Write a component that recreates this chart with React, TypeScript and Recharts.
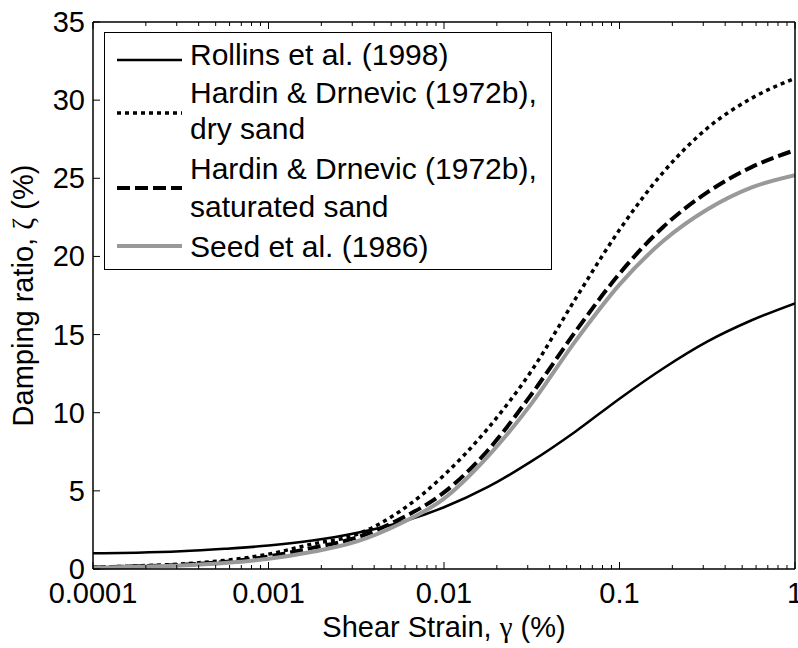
import React from 'react';
import { LineChart, Line, XAxis, YAxis, Legend } from 'recharts';

// shear strain (%) at quarter-decade steps
const strain = [
  0.0001, 0.000178, 0.000316, 0.000562, 0.001, 0.00178, 0.00316, 0.00562, 0.01,
  0.0178, 0.0316, 0.0562, 0.1, 0.178, 0.316, 0.562, 1,
];

// damping ratio (%)
const rollins = [1.0, 1.04, 1.13, 1.29, 1.5, 1.82, 2.3, 2.98, 3.95, 5.25, 6.9, 8.8, 10.9, 12.85, 14.55, 15.9, 17.0];
const hardinDry = [0.1, 0.2, 0.32, 0.55, 0.95, 1.6, 2.2, 3.7, 6.0, 9.0, 12.7, 17.3, 21.7, 25.4, 28.2, 30.1, 31.4];
const hardinSat = [0.1, 0.17, 0.27, 0.45, 0.8, 1.35, 2.0, 3.2, 4.9, 7.6, 11.2, 15.2, 18.9, 21.9, 24.1, 25.7, 26.8];
const seed = [0.08, 0.14, 0.22, 0.38, 0.65, 1.1, 1.75, 2.9, 4.5, 7.2, 10.6, 14.6, 18.2, 21.0, 23.0, 24.4, 25.2];

const xMajorTicks = [0.0001, 0.001, 0.01, 0.1, 1];
const xTickLabels = ['0.0001', '0.001', '0.01', '0.1', '1'];
const yTicks = [0, 5, 10, 15, 20, 25, 30, 35];

const legendRows = [
  { key: 'rollins', lines: ['Rollins et al. (1998)'] },
  { key: 'hardinDry', lines: ['Hardin & Drnevic (1972b),', 'dry sand'] },
  { key: 'hardinSat', lines: ['Hardin & Drnevic (1972b),', 'saturated sand'] },
  { key: 'seed', lines: ['Seed et al. (1986)'] },
];

const styles: Record<string, { stroke: string; width: number; dash?: string }> = {
  rollins: { stroke: '#000000', width: 2.5 },
  hardinDry: { stroke: '#000000', width: 3.5, dash: '4 4' },
  hardinSat: { stroke: '#000000', width: 4, dash: '13 5' },
  seed: { stroke: '#999999', width: 4 },
};

const data = strain.map((x, i) => ({
  x,
  rollins: rollins[i],
  hardinDry: hardinDry[i],
  hardinSat: hardinSat[i],
  seed: seed[i],
}));

// minor log ticks 2..9 in each decade
const xAllTicks: number[] = [];
xMajorTicks.forEach((d, i) => {
  xAllTicks.push(d);
  if (i < xMajorTicks.length - 1) {
    for (let m = 2; m <= 9; m++) xAllTicks.push(+(d * m).toPrecision(3));
  }
});

const FONT = 'Arial, "Liberation Sans", Helvetica, sans-serif';
const GREEK = '"Liberation Serif", "DejaVu Serif", serif';

const majorIndex = (v: number) => xMajorTicks.findIndex((t) => Math.abs(t - v) / t < 1e-6);

function BottomTick(props: any) {
  const { x, y, payload } = props;
  const idx = majorIndex(payload.value);
  return (
    <g>
      <line x1={x} x2={x} y1={y} y2={y - (idx >= 0 ? 7 : 4)} stroke="#000" strokeWidth={1} />
      {idx >= 0 && (
        <text x={x} y={y + 34} textAnchor="middle" fontSize={29} fontFamily={FONT} fill="#000">
          {xTickLabels[idx]}
        </text>
      )}
    </g>
  );
}

function TopTick(props: any) {
  const { x, y, payload } = props;
  const idx = majorIndex(payload.value);
  return <line x1={x} x2={x} y1={y} y2={y + (idx >= 0 ? 7 : 4)} stroke="#000" strokeWidth={1} />;
}

function LeftTick(props: any) {
  const { x, y, payload } = props;
  return (
    <g>
      <line x1={x} x2={x + 7} y1={y} y2={y} stroke="#000" strokeWidth={1} />
      <text x={x - 8} y={y + 10} textAnchor="end" fontSize={29} fontFamily={FONT} fill="#000">
        {payload.value}
      </text>
    </g>
  );
}

function RightTick(props: any) {
  const { x, y } = props;
  return <line x1={x} x2={x - 7} y1={y} y2={y} stroke="#000" strokeWidth={1} />;
}

function XTitle(props: any) {
  const vb = props.viewBox;
  return (
    <text x={vb.x + vb.width / 2} y={vb.y + 68} textAnchor="middle" fontSize={29} fontFamily={FONT} fill="#000">
      Shear Strain, <tspan fontFamily={GREEK}>γ</tspan> (%)
    </text>
  );
}

function YTitle(props: any) {
  const vb = props.viewBox;
  const cx = vb.x + vb.width - 60;
  const cy = vb.y + vb.height / 2;
  return (
    <text
      x={cx}
      y={cy}
      textAnchor="middle"
      fontSize={29}
      fontFamily={FONT}
      fill="#000"
      transform={`rotate(-90 ${cx} ${cy})`}
    >
      Damping ratio, <tspan fontFamily={GREEK}>ζ</tspan> (%)
    </text>
  );
}

const rowLayout = [
  { lineY: 28, textY: [33] },
  { lineY: 81, textY: [71, 107] },
  { lineY: 156, textY: [147, 185] },
  { lineY: 214, textY: [225] },
];

function LegendBox() {
  return (
    <svg width={448} height={238} style={{ display: 'block' }}>
      <rect x={0.5} y={0.5} width={447} height={237} fill="#fff" stroke="#000" strokeWidth={1} />
      {legendRows.map((row, i) => {
        const s = styles[row.key];
        const lay = rowLayout[i];
        return (
          <g key={row.key}>
            <line
              x1={13}
              x2={78}
              y1={lay.lineY}
              y2={lay.lineY}
              stroke={s.stroke}
              strokeWidth={s.width}
              strokeDasharray={s.dash}
            />
            {row.lines.map((t, j) => (
              <text key={j} x={86} y={lay.textY[j]} fontSize={30} fontFamily={FONT} fill="#000">
                {t}
              </text>
            ))}
          </g>
        );
      })}
    </svg>
  );
}

const axisLine = { stroke: '#000', strokeWidth: 1.5 };

export default function App() {
  return (
    <div style={{ position: 'absolute', left: 0, top: 0, width: 798, height: 648, background: '#fff' }}>
      <LineChart width={798} height={648} data={data} margin={{ top: 21, right: 2, bottom: 78, left: 92 }}>
        <XAxis
          dataKey="x"
          type="number"
          scale="log"
          domain={[0.0001, 1]}
          allowDataOverflow
          ticks={xAllTicks}
          interval={0}
          height={1}
          tickSize={0}
          tickMargin={0}
          tickLine={false}
          tick={<BottomTick />}
          axisLine={axisLine}
          label={<XTitle />}
        />
        <XAxis
          xAxisId="top"
          orientation="top"
          dataKey="x"
          type="number"
          scale="log"
          domain={[0.0001, 1]}
          allowDataOverflow
          ticks={xAllTicks}
          interval={0}
          height={1}
          tickSize={0}
          tickMargin={0}
          tickLine={false}
          tick={<TopTick />}
          axisLine={axisLine}
        />
        <YAxis
          type="number"
          domain={[0, 35]}
          ticks={yTicks}
          interval={0}
          width={1}
          tickSize={0}
          tickMargin={0}
          tickLine={false}
          tick={<LeftTick />}
          axisLine={axisLine}
          label={<YTitle />}
        />
        <YAxis
          yAxisId="right"
          orientation="right"
          type="number"
          domain={[0, 35]}
          ticks={yTicks}
          interval={0}
          width={1}
          tickSize={0}
          tickMargin={0}
          tickLine={false}
          tick={<RightTick />}
          axisLine={axisLine}
        />
        {legendRows.map((row) => {
          const s = styles[row.key];
          return (
            <Line
              key={row.key}
              type="monotone"
              dataKey={row.key}
              stroke={s.stroke}
              strokeWidth={s.width}
              strokeDasharray={s.dash}
              dot={false}
              activeDot={false}
              isAnimationActive={false}
            />
          );
        })}
        <Legend
          layout="vertical"
          align="center"
          verticalAlign="middle"
          wrapperStyle={{ left: 104, top: 32, width: 448, height: 238 }}
          content={() => <LegendBox />}
        />
      </LineChart>
    </div>
  );
}
